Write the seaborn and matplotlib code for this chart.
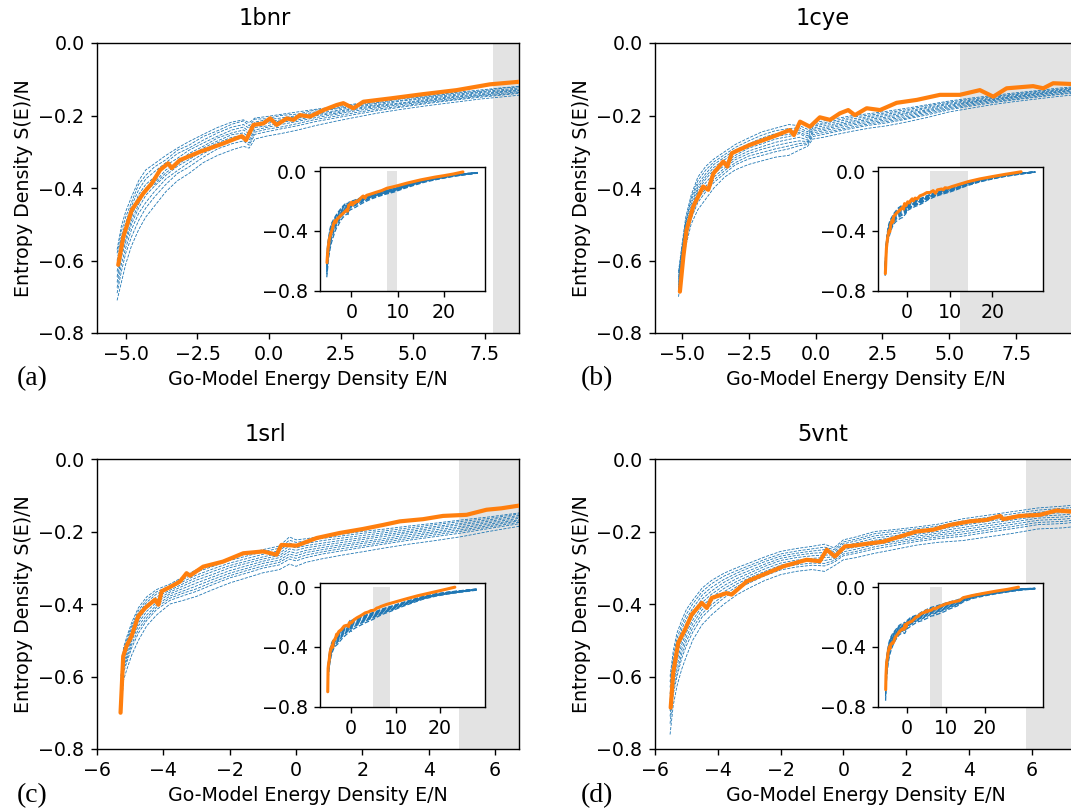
import matplotlib
matplotlib.use("Agg")
import matplotlib.pyplot as plt
import pandas as pd
import seaborn as sns

# ---------------------------------------------------------------- data
# Entropy density S(E)/N versus Go-model energy density E/N.
# Blue: independent replica runs (shared energy grid per protein).
# Orange: reference run.

# 1bnr
E_RUNS_1BNR = [-5.3, -5.15, -5.0, -4.8, -4.55, -4.3, -4.0, -3.6, -3.2, -2.8,
               -2.3, -1.8, -1.3, -0.9, -0.7, -0.5, -0.1, 0.4, 1.0, 1.6,
               2.3, 3.0, 3.8, 4.6, 5.5, 6.4, 7.3, 8.2, 9.2, 11,
               13.5, 16, 19, 22, 25, 27.3]
S_RUNS_1BNR = [
    [-0.57, -0.505, -0.465, -0.425, -0.38, -0.35, -0.333, -0.31, -0.29, -0.272,
     -0.252, -0.233, -0.218, -0.212, -0.22, -0.207, -0.203, -0.197, -0.19, -0.183,
     -0.176, -0.168, -0.16, -0.152, -0.145, -0.137, -0.13, -0.123, -0.116, -0.098,
     -0.075, -0.057, -0.04, -0.026, -0.015, -0.009],
    [-0.58, -0.52, -0.48, -0.44, -0.39, -0.365, -0.342, -0.322, -0.296, -0.282,
     -0.258, -0.242, -0.224, -0.215, -0.228, -0.21, -0.209, -0.2, -0.196, -0.185,
     -0.18, -0.17, -0.164, -0.154, -0.148, -0.139, -0.133, -0.124, -0.118, -0.1,
     -0.077, -0.058, -0.041, -0.027, -0.016, -0.009],
    [-0.60, -0.535, -0.495, -0.45, -0.405, -0.375, -0.355, -0.33, -0.305, -0.29,
     -0.268, -0.248, -0.232, -0.225, -0.235, -0.218, -0.212, -0.207, -0.2, -0.19,
     -0.182, -0.174, -0.166, -0.158, -0.15, -0.142, -0.135, -0.128, -0.12, -0.102,
     -0.079, -0.06, -0.042, -0.028, -0.016, -0.01],
    [-0.615, -0.555, -0.505, -0.468, -0.418, -0.39, -0.37, -0.338, -0.318, -0.296,
     -0.276, -0.257, -0.24, -0.232, -0.245, -0.222, -0.217, -0.212, -0.202, -0.194,
     -0.187, -0.176, -0.17, -0.16, -0.153, -0.145, -0.137, -0.131, -0.123, -0.104,
     -0.081, -0.061, -0.044, -0.028, -0.017, -0.01],
    [-0.63, -0.57, -0.525, -0.48, -0.43, -0.40, -0.385, -0.35, -0.33, -0.305,
     -0.285, -0.262, -0.248, -0.24, -0.25, -0.228, -0.222, -0.215, -0.207, -0.198,
     -0.19, -0.18, -0.172, -0.165, -0.156, -0.148, -0.14, -0.133, -0.126, -0.107,
     -0.083, -0.063, -0.045, -0.029, -0.018, -0.011],
    [-0.645, -0.58, -0.54, -0.49, -0.445, -0.405, -0.39, -0.358, -0.335, -0.315,
     -0.29, -0.27, -0.253, -0.248, -0.26, -0.233, -0.229, -0.219, -0.212, -0.201,
     -0.194, -0.183, -0.175, -0.167, -0.159, -0.15, -0.143, -0.135, -0.128, -0.109,
     -0.085, -0.064, -0.046, -0.03, -0.018, -0.011],
    [-0.66, -0.59, -0.55, -0.50, -0.455, -0.42, -0.395, -0.365, -0.34, -0.322,
     -0.296, -0.275, -0.26, -0.255, -0.268, -0.24, -0.233, -0.225, -0.216, -0.206,
     -0.197, -0.187, -0.178, -0.17, -0.161, -0.153, -0.145, -0.138, -0.13, -0.111,
     -0.087, -0.066, -0.047, -0.031, -0.019, -0.012],
    [-0.675, -0.61, -0.565, -0.515, -0.47, -0.44, -0.41, -0.375, -0.352, -0.33,
     -0.305, -0.285, -0.268, -0.262, -0.276, -0.246, -0.238, -0.232, -0.222, -0.211,
     -0.202, -0.192, -0.182, -0.174, -0.164, -0.156, -0.147, -0.141, -0.132, -0.114,
     -0.089, -0.068, -0.049, -0.032, -0.02, -0.012],
    [-0.69, -0.63, -0.58, -0.535, -0.49, -0.455, -0.425, -0.39, -0.36, -0.342,
     -0.315, -0.292, -0.278, -0.27, -0.282, -0.252, -0.245, -0.237, -0.228, -0.217,
     -0.207, -0.197, -0.186, -0.177, -0.167, -0.158, -0.15, -0.143, -0.135, -0.116,
     -0.091, -0.069, -0.05, -0.033, -0.021, -0.012],
    [-0.71, -0.66, -0.61, -0.56, -0.515, -0.48, -0.45, -0.41, -0.38, -0.36,
     -0.33, -0.31, -0.295, -0.285, -0.29, -0.265, -0.257, -0.25, -0.24, -0.228,
     -0.216, -0.205, -0.193, -0.183, -0.173, -0.164, -0.155, -0.148, -0.14, -0.12,
     -0.095, -0.072, -0.052, -0.035, -0.022, -0.013],
]
E_REF_1BNR = [-5.26, -5.08, -4.79, -4.39, -4.09, -3.80, -3.52, -3.40, -3.11, -2.41,
              -1.60, -0.96, -0.81, -0.55, -0.21, 0.03, 0.26, 0.61, 0.84, 1.07,
              1.42, 1.89, 2.35, 2.58, 2.93, 3.28, 4.21, 5.37, 6.53, 7.69,
              8.70, 10, 12, 15, 18, 20, 22, 24.1]
S_REF_1BNR = [-0.612, -0.534, -0.461, -0.415, -0.387, -0.350, -0.332, -0.345, -0.323, -0.300,
              -0.277, -0.257, -0.268, -0.226, -0.222, -0.208, -0.226, -0.208, -0.212, -0.199,
              -0.203, -0.185, -0.171, -0.166, -0.180, -0.162, -0.153, -0.141, -0.130, -0.114,
              -0.107, -0.097, -0.080, -0.058, -0.040, -0.030, -0.019, -0.005]

# 1cye
E_RUNS_1CYE = [-5.12, -5.0, -4.85, -4.65, -4.4, -4.1, -3.8, -3.4, -3.0, -2.5,
               -2.0, -1.5, -1.0, -0.6, -0.3, -0.1, 0.3, 0.8, 1.4, 2.0,
               2.7, 3.4, 4.2, 5.0, 5.8, 6.6, 7.4, 8.2, 9.0, 9.8,
               11.5, 14, 17, 20, 23, 26.5, 30.0]
S_RUNS_1CYE = [
    [-0.63, -0.56, -0.48, -0.42, -0.37, -0.34, -0.32, -0.30, -0.28, -0.262,
     -0.245, -0.235, -0.225, -0.228, -0.238, -0.22, -0.215, -0.208, -0.20, -0.195,
     -0.188, -0.18, -0.17, -0.16, -0.152, -0.145, -0.138, -0.132, -0.125, -0.12,
     -0.105, -0.08, -0.058, -0.04, -0.026, -0.014, -0.004],
    [-0.635, -0.57, -0.49, -0.428, -0.38, -0.35, -0.328, -0.308, -0.288, -0.27,
     -0.254, -0.242, -0.236, -0.234, -0.245, -0.226, -0.22, -0.213, -0.204, -0.199,
     -0.192, -0.184, -0.173, -0.163, -0.155, -0.148, -0.141, -0.134, -0.128, -0.122,
     -0.107, -0.082, -0.06, -0.041, -0.027, -0.014, -0.004],
    [-0.645, -0.575, -0.495, -0.435, -0.39, -0.36, -0.335, -0.315, -0.295, -0.278,
     -0.262, -0.25, -0.245, -0.24, -0.25, -0.23, -0.224, -0.217, -0.209, -0.203,
     -0.196, -0.188, -0.177, -0.166, -0.158, -0.15, -0.143, -0.137, -0.13, -0.124,
     -0.109, -0.084, -0.061, -0.042, -0.028, -0.015, -0.005],
    [-0.652, -0.58, -0.50, -0.445, -0.398, -0.368, -0.343, -0.322, -0.302, -0.284,
     -0.27, -0.258, -0.252, -0.246, -0.256, -0.234, -0.229, -0.222, -0.214, -0.207,
     -0.2, -0.192, -0.18, -0.169, -0.161, -0.153, -0.146, -0.139, -0.132, -0.126,
     -0.111, -0.086, -0.062, -0.044, -0.029, -0.015, -0.005],
    [-0.66, -0.59, -0.51, -0.455, -0.405, -0.375, -0.35, -0.33, -0.31, -0.29,
     -0.278, -0.265, -0.258, -0.25, -0.262, -0.238, -0.234, -0.226, -0.218, -0.211,
     -0.204, -0.195, -0.184, -0.172, -0.163, -0.155, -0.148, -0.141, -0.134, -0.128,
     -0.113, -0.087, -0.064, -0.045, -0.03, -0.016, -0.005],
    [-0.668, -0.595, -0.52, -0.462, -0.412, -0.385, -0.36, -0.338, -0.316, -0.298,
     -0.286, -0.274, -0.266, -0.26, -0.268, -0.243, -0.238, -0.23, -0.222, -0.215,
     -0.208, -0.199, -0.187, -0.175, -0.165, -0.157, -0.15, -0.143, -0.136, -0.13,
     -0.115, -0.089, -0.065, -0.046, -0.03, -0.016, -0.006],
    [-0.675, -0.60, -0.53, -0.47, -0.42, -0.395, -0.37, -0.345, -0.322, -0.305,
     -0.293, -0.283, -0.275, -0.27, -0.272, -0.248, -0.242, -0.235, -0.226, -0.219,
     -0.212, -0.203, -0.19, -0.178, -0.168, -0.159, -0.152, -0.145, -0.138, -0.132,
     -0.117, -0.091, -0.066, -0.047, -0.031, -0.017, -0.006],
    [-0.68, -0.608, -0.538, -0.478, -0.43, -0.402, -0.378, -0.352, -0.33, -0.312,
     -0.302, -0.292, -0.284, -0.277, -0.276, -0.253, -0.247, -0.24, -0.231, -0.223,
     -0.216, -0.207, -0.194, -0.181, -0.171, -0.162, -0.155, -0.148, -0.141, -0.135,
     -0.119, -0.093, -0.068, -0.049, -0.032, -0.018, -0.006],
    [-0.685, -0.615, -0.545, -0.485, -0.44, -0.41, -0.385, -0.36, -0.336, -0.32,
     -0.31, -0.30, -0.292, -0.283, -0.28, -0.258, -0.252, -0.244, -0.235, -0.227,
     -0.22, -0.21, -0.198, -0.184, -0.174, -0.165, -0.157, -0.15, -0.143, -0.137,
     -0.121, -0.094, -0.069, -0.05, -0.033, -0.018, -0.006],
    [-0.70, -0.63, -0.56, -0.50, -0.46, -0.43, -0.40, -0.37, -0.35, -0.335,
     -0.325, -0.315, -0.31, -0.295, -0.285, -0.265, -0.26, -0.252, -0.243, -0.235,
     -0.228, -0.218, -0.205, -0.19, -0.18, -0.17, -0.162, -0.155, -0.148, -0.142,
     -0.125, -0.098, -0.072, -0.052, -0.035, -0.02, -0.007],
]
E_REF_1CYE = [-5.07, -4.94, -4.82, -4.57, -4.20, -4.01, -3.82, -3.45, -3.30, -3.13,
              -2.45, -1.58, -0.96, -0.81, -0.58, -0.21, 0.16, 0.54, 0.91, 1.22,
              1.47, 1.91, 2.41, 3.03, 3.78, 4.65, 5.39, 6.14, 6.64, 7.14,
              8.13, 8.51, 8.88, 9.54, 10.5, 12, 14.3, 17, 20, 23,
              26.7]
S_REF_1CYE = [-0.686, -0.589, -0.516, -0.451, -0.396, -0.405, -0.360, -0.327, -0.341, -0.304,
              -0.281, -0.258, -0.240, -0.254, -0.217, -0.231, -0.205, -0.212, -0.194, -0.185,
              -0.199, -0.180, -0.185, -0.165, -0.157, -0.143, -0.143, -0.130, -0.148, -0.125,
              -0.119, -0.125, -0.111, -0.113, -0.103, -0.090, -0.070, -0.052, -0.036, -0.021,
              -0.004]

# 1srl
E_RUNS_1SRL = [-5.28, -5.2, -5.1, -4.95, -4.75, -4.5, -4.2, -3.8, -3.4, -3.0,
               -2.5, -2.0, -1.5, -1.0, -0.5, -0.2, 0.0, 0.3, 0.8, 1.4,
               2.0, 2.7, 3.4, 4.2, 5.0, 5.8, 6.7, 7.6, 9.0, 11,
               13.5, 16, 19, 22, 25, 28.2]
S_RUNS_1SRL = [
    [-0.60, -0.52, -0.49, -0.45, -0.41, -0.38, -0.36, -0.345, -0.325, -0.305,
     -0.29, -0.273, -0.262, -0.25, -0.24, -0.215, -0.223, -0.22, -0.213, -0.207,
     -0.20, -0.193, -0.185, -0.177, -0.168, -0.16, -0.149, -0.14, -0.127, -0.108,
     -0.085, -0.063, -0.045, -0.032, -0.022, -0.012],
    [-0.61, -0.53, -0.498, -0.458, -0.418, -0.388, -0.366, -0.35, -0.332, -0.312,
     -0.296, -0.28, -0.268, -0.256, -0.246, -0.224, -0.23, -0.226, -0.219, -0.212,
     -0.205, -0.198, -0.19, -0.181, -0.172, -0.164, -0.152, -0.143, -0.13, -0.11,
     -0.087, -0.065, -0.046, -0.033, -0.023, -0.013],
    [-0.62, -0.54, -0.505, -0.465, -0.425, -0.395, -0.372, -0.356, -0.338, -0.32,
     -0.303, -0.287, -0.275, -0.263, -0.253, -0.232, -0.238, -0.233, -0.225, -0.218,
     -0.211, -0.203, -0.195, -0.186, -0.177, -0.168, -0.156, -0.147, -0.133, -0.113,
     -0.09, -0.067, -0.048, -0.035, -0.024, -0.014],
    [-0.63, -0.548, -0.515, -0.475, -0.435, -0.402, -0.38, -0.362, -0.344, -0.327,
     -0.31, -0.294, -0.282, -0.27, -0.26, -0.24, -0.245, -0.239, -0.232, -0.224,
     -0.217, -0.208, -0.2, -0.19, -0.181, -0.172, -0.16, -0.15, -0.137, -0.116,
     -0.092, -0.068, -0.05, -0.036, -0.025, -0.015],
    [-0.64, -0.555, -0.525, -0.485, -0.445, -0.41, -0.388, -0.367, -0.35, -0.334,
     -0.318, -0.30, -0.288, -0.276, -0.266, -0.248, -0.252, -0.245, -0.238, -0.23,
     -0.222, -0.213, -0.204, -0.195, -0.186, -0.176, -0.164, -0.154, -0.14, -0.119,
     -0.094, -0.07, -0.051, -0.037, -0.026, -0.015],
    [-0.65, -0.565, -0.535, -0.492, -0.452, -0.42, -0.395, -0.372, -0.357, -0.342,
     -0.325, -0.308, -0.295, -0.282, -0.272, -0.255, -0.26, -0.252, -0.244, -0.236,
     -0.228, -0.219, -0.209, -0.2, -0.19, -0.18, -0.168, -0.158, -0.143, -0.121,
     -0.096, -0.072, -0.052, -0.038, -0.027, -0.016],
    [-0.66, -0.575, -0.545, -0.50, -0.46, -0.43, -0.402, -0.378, -0.364, -0.35,
     -0.332, -0.315, -0.302, -0.288, -0.279, -0.262, -0.267, -0.258, -0.25, -0.241,
     -0.233, -0.224, -0.214, -0.204, -0.195, -0.184, -0.171, -0.161, -0.146, -0.124,
     -0.099, -0.074, -0.054, -0.04, -0.028, -0.017],
    [-0.67, -0.582, -0.552, -0.51, -0.47, -0.438, -0.408, -0.384, -0.37, -0.358,
     -0.339, -0.322, -0.308, -0.295, -0.285, -0.269, -0.274, -0.265, -0.256, -0.247,
     -0.239, -0.229, -0.219, -0.209, -0.199, -0.188, -0.175, -0.165, -0.15, -0.127,
     -0.101, -0.076, -0.055, -0.041, -0.029, -0.017],
    [-0.68, -0.59, -0.56, -0.52, -0.48, -0.445, -0.415, -0.39, -0.377, -0.365,
     -0.346, -0.328, -0.315, -0.301, -0.292, -0.276, -0.281, -0.272, -0.262, -0.253,
     -0.244, -0.234, -0.224, -0.214, -0.204, -0.192, -0.179, -0.168, -0.153, -0.13,
     -0.103, -0.078, -0.057, -0.042, -0.03, -0.018],
    [-0.70, -0.61, -0.58, -0.54, -0.50, -0.46, -0.43, -0.40, -0.39, -0.379,
     -0.36, -0.342, -0.328, -0.314, -0.305, -0.29, -0.296, -0.285, -0.275, -0.265,
     -0.256, -0.245, -0.235, -0.225, -0.214, -0.20, -0.186, -0.175, -0.16, -0.135,
     -0.108, -0.082, -0.06, -0.045, -0.032, -0.02],
]
E_REF_1SRL = [-5.29, -5.21, -5.11, -4.96, -4.76, -4.55, -4.25, -4.15, -4.05, -3.75,
              -3.50, -3.30, -3.20, -2.80, -2.20, -1.59, -0.99, -0.59, -0.44, 0.02,
              0.62, 1.32, 2.02, 2.62, 3.13, 3.83, 4.43, 5.14, 5.74, 6.19,
              6.69, 8, 10, 12.5, 15, 17.5, 20, 23.3]
S_REF_1SRL = [-0.700, -0.544, -0.516, -0.489, -0.434, -0.411, -0.388, -0.402, -0.365, -0.351,
              -0.338, -0.315, -0.322, -0.297, -0.283, -0.260, -0.255, -0.264, -0.237, -0.239,
              -0.218, -0.204, -0.193, -0.182, -0.172, -0.166, -0.157, -0.154, -0.140, -0.136,
              -0.129, -0.115, -0.098, -0.077, -0.057, -0.040, -0.023, 0.0]

# 5vnt
E_RUNS_5VNT = [-5.52, -5.42, -5.3, -5.15, -5.0, -4.8, -4.5, -4.2, -3.8, -3.4,
               -3.0, -2.5, -2.0, -1.5, -1.0, -0.6, -0.3, 0.0, 0.4, 1.0,
               1.6, 2.3, 3.0, 3.8, 4.6, 5.4, 6.2, 7.0, 8.0, 9.5,
               11, 13, 14.5, 17, 20, 23.5, 27, 30, 33.0]
S_RUNS_5VNT = [
    [-0.60, -0.53, -0.48, -0.445, -0.415, -0.39, -0.356, -0.335, -0.315, -0.30,
     -0.287, -0.27, -0.255, -0.247, -0.241, -0.235, -0.245, -0.223, -0.215, -0.20,
     -0.195, -0.188, -0.18, -0.165, -0.155, -0.145, -0.135, -0.13, -0.122, -0.11,
     -0.098, -0.085, -0.068, -0.052, -0.038, -0.026, -0.016, -0.01, -0.007],
    [-0.615, -0.545, -0.495, -0.458, -0.428, -0.40, -0.366, -0.344, -0.323, -0.308,
     -0.294, -0.277, -0.262, -0.254, -0.248, -0.243, -0.25, -0.229, -0.221, -0.206,
     -0.2, -0.193, -0.185, -0.171, -0.161, -0.151, -0.141, -0.136, -0.128, -0.116,
     -0.103, -0.089, -0.071, -0.055, -0.04, -0.028, -0.017, -0.011, -0.008],
    [-0.63, -0.56, -0.51, -0.47, -0.44, -0.412, -0.376, -0.354, -0.332, -0.315,
     -0.30, -0.283, -0.268, -0.26, -0.254, -0.25, -0.255, -0.234, -0.226, -0.212,
     -0.206, -0.198, -0.19, -0.177, -0.167, -0.157, -0.147, -0.142, -0.133, -0.121,
     -0.107, -0.093, -0.074, -0.057, -0.042, -0.029, -0.018, -0.012, -0.008],
    [-0.648, -0.575, -0.525, -0.485, -0.452, -0.424, -0.386, -0.364, -0.34, -0.322,
     -0.308, -0.29, -0.274, -0.266, -0.26, -0.258, -0.26, -0.24, -0.232, -0.218,
     -0.212, -0.203, -0.195, -0.183, -0.172, -0.162, -0.152, -0.148, -0.139, -0.126,
     -0.112, -0.098, -0.077, -0.059, -0.044, -0.03, -0.019, -0.012, -0.008],
    [-0.665, -0.59, -0.54, -0.50, -0.465, -0.435, -0.396, -0.373, -0.349, -0.33,
     -0.315, -0.296, -0.28, -0.272, -0.267, -0.265, -0.265, -0.245, -0.238, -0.224,
     -0.217, -0.208, -0.2, -0.189, -0.178, -0.168, -0.158, -0.154, -0.145, -0.132,
     -0.117, -0.102, -0.08, -0.061, -0.046, -0.032, -0.021, -0.013, -0.009],
    [-0.68, -0.605, -0.555, -0.512, -0.478, -0.445, -0.406, -0.382, -0.357, -0.338,
     -0.322, -0.303, -0.287, -0.279, -0.274, -0.272, -0.27, -0.25, -0.243, -0.23,
     -0.222, -0.213, -0.205, -0.195, -0.184, -0.174, -0.163, -0.16, -0.151, -0.137,
     -0.121, -0.106, -0.083, -0.063, -0.048, -0.033, -0.022, -0.014, -0.009],
    [-0.695, -0.62, -0.57, -0.525, -0.49, -0.455, -0.416, -0.392, -0.366, -0.345,
     -0.328, -0.31, -0.293, -0.285, -0.28, -0.28, -0.275, -0.256, -0.249, -0.236,
     -0.228, -0.218, -0.21, -0.201, -0.19, -0.18, -0.169, -0.166, -0.157, -0.143,
     -0.126, -0.11, -0.086, -0.066, -0.05, -0.035, -0.023, -0.015, -0.01],
    [-0.71, -0.635, -0.585, -0.538, -0.502, -0.466, -0.426, -0.402, -0.375, -0.352,
     -0.335, -0.316, -0.3, -0.292, -0.287, -0.288, -0.28, -0.262, -0.255, -0.242,
     -0.233, -0.223, -0.215, -0.207, -0.196, -0.186, -0.175, -0.172, -0.162, -0.148,
     -0.131, -0.113, -0.089, -0.068, -0.052, -0.037, -0.024, -0.015, -0.01],
    [-0.73, -0.65, -0.60, -0.55, -0.515, -0.478, -0.436, -0.411, -0.383, -0.36,
     -0.342, -0.322, -0.306, -0.298, -0.293, -0.295, -0.285, -0.267, -0.26, -0.248,
     -0.239, -0.228, -0.22, -0.213, -0.202, -0.192, -0.181, -0.178, -0.168, -0.154,
     -0.136, -0.117, -0.092, -0.07, -0.054, -0.039, -0.025, -0.016, -0.011],
    [-0.76, -0.68, -0.626, -0.58, -0.544, -0.50, -0.457, -0.43, -0.40, -0.375,
     -0.356, -0.335, -0.319, -0.31, -0.305, -0.31, -0.295, -0.278, -0.272, -0.26,
     -0.25, -0.238, -0.23, -0.225, -0.215, -0.205, -0.193, -0.19, -0.18, -0.165,
     -0.145, -0.125, -0.098, -0.075, -0.058, -0.042, -0.028, -0.018, -0.012],
]
E_REF_5VNT = [-5.50, -5.42, -5.26, -5.04, -4.83, -4.51, -4.35, -4.19, -3.72, -3.56,
              -3.08, -2.55, -1.91, -1.17, -0.75, -0.53, -0.27, 0.05, 0.21, 0.74,
              1.27, 1.80, 2.33, 2.86, 3.39, 4.03, 4.56, 4.99, 5.09, 5.62,
              6.26, 6.79, 7.25, 8.5, 10, 12, 13.5, 14.5, 17, 20,
              23, 26, 28.7]
S_REF_5VNT = [-0.686, -0.590, -0.507, -0.470, -0.429, -0.397, -0.411, -0.383, -0.370, -0.374,
              -0.338, -0.319, -0.296, -0.278, -0.282, -0.250, -0.269, -0.241, -0.240, -0.234,
              -0.228, -0.214, -0.200, -0.195, -0.182, -0.172, -0.168, -0.157, -0.166, -0.157,
              -0.154, -0.142, -0.145, -0.128, -0.112, -0.098, -0.090, -0.070, -0.055, -0.040,
              -0.026, -0.014, 0.0]

PROTEINS = ["1bnr", "1cye", "1srl", "5vnt"]
PANEL_LETTERS = ["(a)", "(b)", "(c)", "(d)"]
# shaded energy windows (E/N)
WINDOWS = [(7.8, 9.8), (5.4, 14.3), (4.9, 8.7), (5.8, 9.0)]
MAIN_XLIMS = [(-6.0, 8.7), (-6.0, 9.77), (-6.0, 6.72), (-6.0, 7.44)]
MAIN_XTICKS = [[-5.0, -2.5, 0.0, 2.5, 5.0, 7.5], [-5.0, -2.5, 0.0, 2.5, 5.0, 7.5],
               [-6, -4, -2, 0, 2, 4, 6], [-6, -4, -2, 0, 2, 4, 6]]
INSET_XLIMS = [(-6.76, 28.86), (-6.72, 31.9), (-7.03, 30.08), (-7.4, 35.1)]
MAIN_YTICKS = [0.0, -0.2, -0.4, -0.6, -0.8]
INSET_YTICKS = [0.0, -0.4, -0.8]
INSET_XTICKS = [0, 10, 20]

RUNS = {
    "1bnr": (E_RUNS_1BNR, S_RUNS_1BNR, E_REF_1BNR, S_REF_1BNR),
    "1cye": (E_RUNS_1CYE, S_RUNS_1CYE, E_REF_1CYE, S_REF_1CYE),
    "1srl": (E_RUNS_1SRL, S_RUNS_1SRL, E_REF_1SRL, S_REF_1SRL),
    "5vnt": (E_RUNS_5VNT, S_RUNS_5VNT, E_REF_5VNT, S_REF_5VNT),
}

BLUE = "#1f77b4"
ORANGE = "#ff7f0e"
SHADE = "#e3e3e3"

# ---------------------------------------------------------------- style
sns.set_style("ticks")
plt.rcParams.update({
    "font.family": ["DejaVu Sans"],
    "font.size": 13.7,
    "axes.titlesize": 16.3,
    "axes.labelsize": 13.7,
    "xtick.labelsize": 13.7,
    "ytick.labelsize": 13.7,
    "axes.edgecolor": "black",
    "axes.linewidth": 1.0,
    "xtick.color": "black",
    "ytick.color": "black",
    "xtick.major.size": 4.5,
    "ytick.major.size": 4.5,
    "xtick.major.width": 1.0,
    "ytick.major.width": 1.0,
    "xtick.major.pad": 4.5,
    "ytick.major.pad": 4.5,
    "text.color": "black",
    "axes.labelcolor": "black",
})

W, H = 1071, 810
fig = plt.figure(figsize=(W / 100, H / 100), dpi=100)

# axes rectangles in pixels: (left, top, width, height)
MAIN_PX = [(97, 43, 422, 290), (655, 43, 422, 290),
           (97, 459, 422, 290), (655, 459, 422, 290)]
INSET_PX = [(320, 166.7, 165, 124), (878.3, 166.7, 165, 124),
            (320, 582.7, 165, 124), (878.3, 582.7, 165, 124)]
LETTER_XY = [(17, 378.5), (581, 378.5), (17, 796), (581, 796)]


def rect(px):
    left, top, w, h = px
    return [left / W, 1 - (top + h) / H, w / W, h / H]


def long_frame(e_grid, runs):
    rows = []
    for k, run in enumerate(runs):
        rows.append(pd.DataFrame({"E": e_grid, "S": run, "run": k}))
    return pd.concat(rows, ignore_index=True)


def draw_curves(ax, name, lw_run, lw_ref):
    e_grid, runs, e_ref, s_ref = RUNS[name]
    df = long_frame(e_grid, runs)
    sns.lineplot(data=df, x="E", y="S", units="run", estimator=None, sort=False,
                 color=BLUE, lw=lw_run, linestyle="--", ax=ax, zorder=2)
    sns.lineplot(x=e_ref, y=s_ref, estimator=None, sort=False,
                 color=ORANGE, lw=lw_ref, ax=ax, zorder=3)


for i, name in enumerate(PROTEINS):
    ax = fig.add_axes(rect(MAIN_PX[i]))
    lo, hi = WINDOWS[i]
    ax.fill_betweenx([-0.8, 0.0], lo, hi, color=SHADE, lw=0, zorder=0)
    draw_curves(ax, name, 0.6, 3.0)
    ax.set_xlim(*MAIN_XLIMS[i])
    ax.set_ylim(-0.8, 0.0)
    ax.set_xticks(MAIN_XTICKS[i])
    ax.set_yticks(MAIN_YTICKS)
    ax.set_xlabel("Go-Model Energy Density E/N")
    ax.set_ylabel("Entropy Density S(E)/N")
    ax.set_title(name, x=0.398, pad=13)

    ins = fig.add_axes(rect(INSET_PX[i]))
    ins.fill_betweenx([-0.8, 0.0], lo, hi, color=SHADE, lw=0, zorder=0)
    draw_curves(ins, name, 0.9, 2.2)
    ins.set_xlim(*INSET_XLIMS[i])
    ins.set_ylim(-0.8, 0.03)
    ins.set_xticks(INSET_XTICKS)
    ins.set_yticks(INSET_YTICKS)
    ins.set_xlabel("")
    ins.set_ylabel("")

    lx, ly = LETTER_XY[i]
    fig.text(lx / W, 1 - ly / H, PANEL_LETTERS[i], ha="left", va="center",
             fontsize=20, family=["Liberation Serif", "DejaVu Serif"])

fig.savefig("out.png", dpi=100)
